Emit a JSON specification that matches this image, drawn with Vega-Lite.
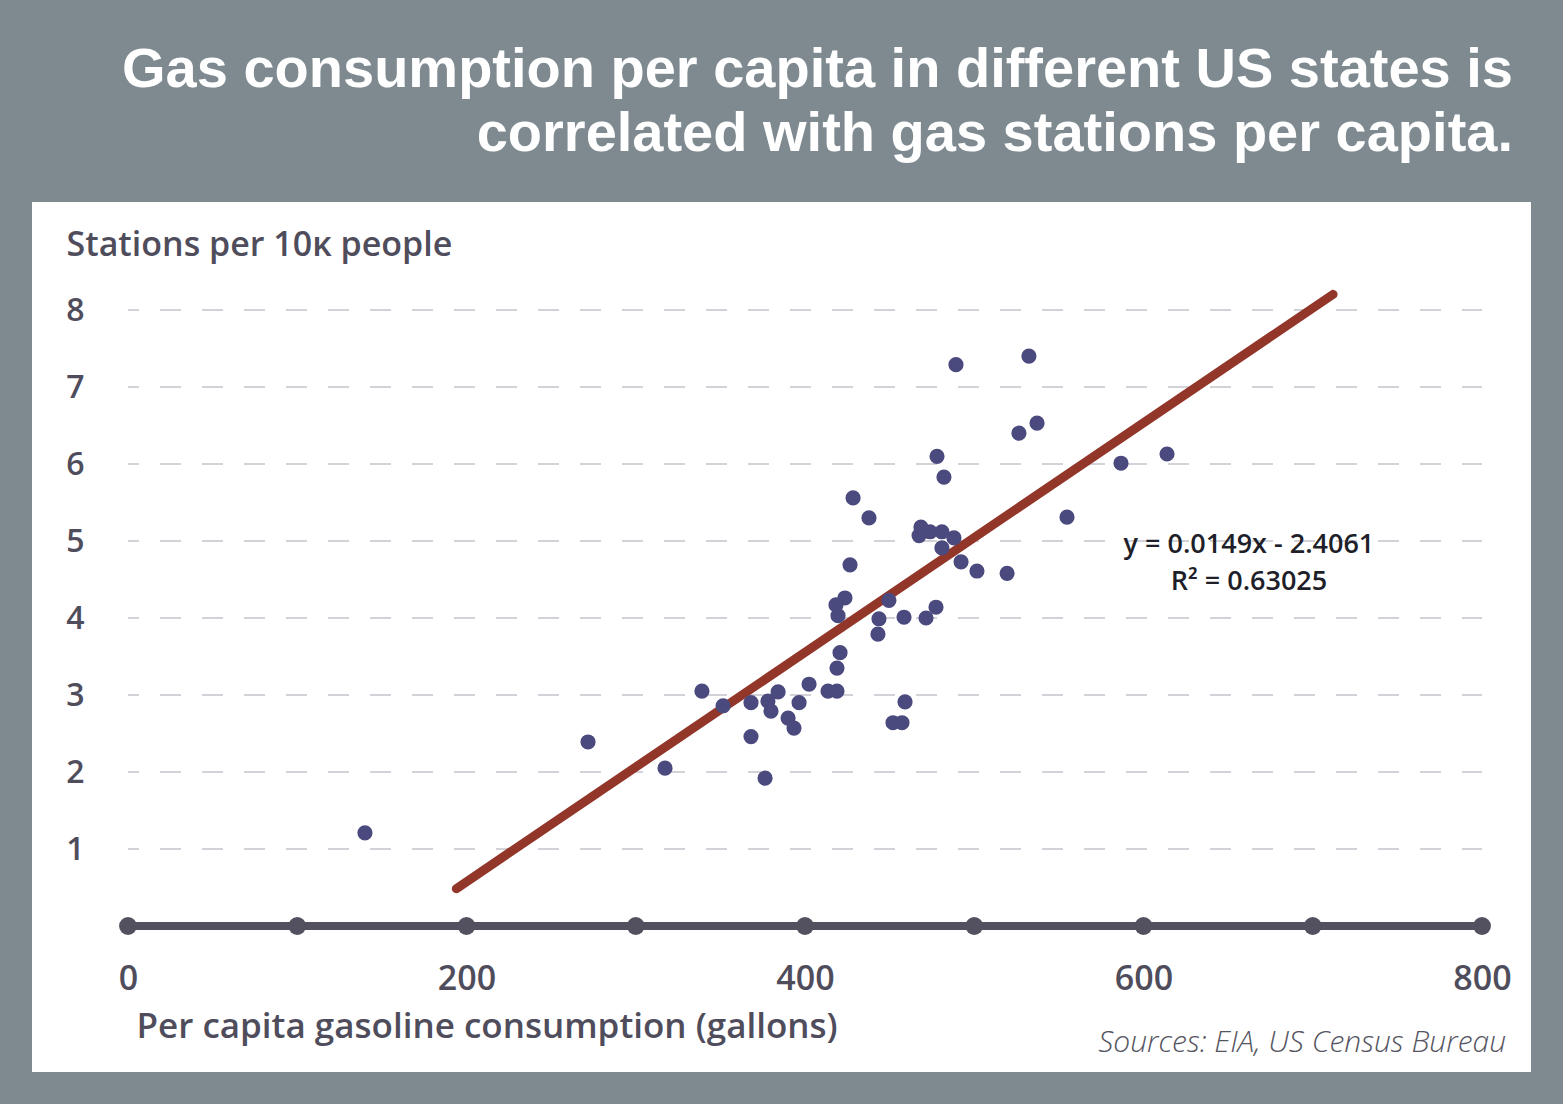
{
  "$schema": "https://vega.github.io/schema/vega-lite/v6.json",
  "autosize": {"type": "none"},
  "width": 1499,
  "height": 870,
  "padding": {"left": 32, "top": 202, "right": 32, "bottom": 32},
  "background": "#7e8990",
  "config": {
    "view": {"fill": "white", "stroke": null},
    "font": "Open Sans"
  },
  "title": {
    "text": ["Gas consumption per capita in different US states is", "correlated with gas stations per capita."],
    "anchor": "end",
    "frame": "group",
    "align": "right",
    "baseline": "bottom",
    "dx": -18,
    "offset": -17,
    "font": "Liberation Sans",
    "fontSize": 56,
    "fontWeight": "bold",
    "lineHeight": 64,
    "color": "white"
  },
  "datasets": {
    "states": [
      {"gallons": 489.2, "stations": 7.29},
      {"gallons": 532.3, "stations": 7.40},
      {"gallons": 526.4, "stations": 6.40},
      {"gallons": 537.1, "stations": 6.53},
      {"gallons": 478.0, "stations": 6.10},
      {"gallons": 482.1, "stations": 5.83},
      {"gallons": 428.4, "stations": 5.56},
      {"gallons": 437.8, "stations": 5.30},
      {"gallons": 554.8, "stations": 5.31},
      {"gallons": 468.5, "stations": 5.18},
      {"gallons": 467.4, "stations": 5.07},
      {"gallons": 473.9, "stations": 5.12},
      {"gallons": 480.9, "stations": 5.12},
      {"gallons": 488.0, "stations": 5.04},
      {"gallons": 480.9, "stations": 4.91},
      {"gallons": 492.2, "stations": 4.73},
      {"gallons": 501.6, "stations": 4.61},
      {"gallons": 519.4, "stations": 4.58},
      {"gallons": 426.6, "stations": 4.69},
      {"gallons": 423.6, "stations": 4.26},
      {"gallons": 418.3, "stations": 4.17},
      {"gallons": 419.5, "stations": 4.03},
      {"gallons": 449.6, "stations": 4.23},
      {"gallons": 443.7, "stations": 3.99},
      {"gallons": 443.1, "stations": 3.79},
      {"gallons": 458.5, "stations": 4.01},
      {"gallons": 471.5, "stations": 4.00},
      {"gallons": 477.4, "stations": 4.14},
      {"gallons": 420.7, "stations": 3.55},
      {"gallons": 418.9, "stations": 3.35},
      {"gallons": 402.4, "stations": 3.14},
      {"gallons": 413.6, "stations": 3.05},
      {"gallons": 418.9, "stations": 3.05},
      {"gallons": 459.1, "stations": 2.91},
      {"gallons": 452.0, "stations": 2.64},
      {"gallons": 457.3, "stations": 2.64},
      {"gallons": 339.1, "stations": 3.05},
      {"gallons": 351.6, "stations": 2.86},
      {"gallons": 368.1, "stations": 2.90},
      {"gallons": 378.1, "stations": 2.92},
      {"gallons": 384.1, "stations": 3.04},
      {"gallons": 379.9, "stations": 2.79},
      {"gallons": 396.5, "stations": 2.90},
      {"gallons": 390.0, "stations": 2.70},
      {"gallons": 393.5, "stations": 2.57},
      {"gallons": 368.1, "stations": 2.46},
      {"gallons": 140.0, "stations": 1.21},
      {"gallons": 271.8, "stations": 2.39},
      {"gallons": 317.3, "stations": 2.05},
      {"gallons": 376.4, "stations": 1.92},
      {"gallons": 586.7, "stations": 6.01},
      {"gallons": 613.9, "stations": 6.13}
    ],
    "trend": [
      {"gallons": 194, "stations": 0.485},
      {"gallons": 712, "stations": 8.203}
    ],
    "grid": [
      {"stations": 1}, {"stations": 2}, {"stations": 3}, {"stations": 4},
      {"stations": 5}, {"stations": 6}, {"stations": 7}, {"stations": 8}
    ],
    "ticks": [
      {"gallons": 0}, {"gallons": 100}, {"gallons": 200}, {"gallons": 300}, {"gallons": 400},
      {"gallons": 500}, {"gallons": 600}, {"gallons": 700}, {"gallons": 800}
    ]
  },
  "layer": [
    {
      "data": {"name": "grid"},
      "mark": {"type": "rule", "color": "#d3d2d8", "strokeWidth": 2, "strokeDash": [21, 21], "strokeDashOffset": 10},
      "encoding": {
        "x": {"datum": 0, "type": "quantitative", "scale": {"domain": [-56.72, 828.95], "nice": false, "zero": false}},
        "x2": {"datum": 800},
        "y": {"field": "stations", "type": "quantitative", "scale": {"domain": [-1.896, 9.4026], "nice": false, "zero": false}}
      }
    },
    {
      "data": {"name": "ticks"},
      "mark": {"type": "rule", "color": "#53515f", "strokeWidth": 8},
      "encoding": {
        "x": {"aggregate": "min", "field": "gallons", "type": "quantitative", "scale": {"domain": [-56.72, 828.95], "nice": false, "zero": false}},
        "x2": {"aggregate": "max", "field": "gallons"},
        "y": {"datum": 0, "type": "quantitative", "scale": {"domain": [-1.896, 9.4026], "nice": false, "zero": false}}
      }
    },
    {
      "data": {"name": "ticks"},
      "mark": {"type": "point", "filled": true, "size": 320, "color": "#53515f", "opacity": 1},
      "encoding": {
        "x": {"field": "gallons", "type": "quantitative", "scale": {"domain": [-56.72, 828.95], "nice": false, "zero": false}},
        "y": {"datum": 0, "type": "quantitative", "scale": {"domain": [-1.896, 9.4026], "nice": false, "zero": false}}
      }
    },
    {
      "data": {"name": "trend"},
      "mark": {"type": "line", "color": "#93362a", "strokeWidth": 9, "strokeCap": "round"},
      "encoding": {
        "x": {"field": "gallons", "type": "quantitative", "scale": {"domain": [-56.72, 828.95], "nice": false, "zero": false}},
        "y": {"field": "stations", "type": "quantitative", "scale": {"domain": [-1.896, 9.4026], "nice": false, "zero": false}}
      }
    },
    {
      "data": {"name": "states"},
      "mark": {"type": "circle", "size": 230, "color": "#4b4a7e", "opacity": 1},
      "encoding": {
        "x": {
          "field": "gallons",
          "type": "quantitative",
          "scale": {"domain": [-56.72, 828.95], "nice": false, "zero": false},
          "axis": {
            "values": [0, 200, 400, 600, 800],
            "format": "d",
            "domain": false,
            "ticks": false,
            "grid": false,
            "offset": -146,
            "labelPadding": 36,
            "labelFont": "Open Sans",
            "labelFontSize": 34,
            "labelFontWeight": 600,
            "labelColor": "#4f4d5c",
            "title": "Per capita gasoline consumption (gallons)",
            "titleFont": "Open Sans",
            "titleFontSize": 35,
            "titleFontWeight": 600,
            "titleColor": "#4f4d5c",
            "titleAlign": "left",
            "titleBaseline": "alphabetic",
            "titleX": 104,
            "titleY": 111
          }
        },
        "y": {
          "field": "stations",
          "type": "quantitative",
          "scale": {"domain": [-1.896, 9.4026], "nice": false, "zero": false},
          "axis": {
            "values": [1, 2, 3, 4, 5, 6, 7, 8],
            "format": "d",
            "domain": false,
            "ticks": false,
            "grid": false,
            "offset": -56,
            "labelPadding": 4,
            "labelFont": "Open Sans",
            "labelFontSize": 32,
            "labelFontWeight": 600,
            "labelColor": "#4f4d5c",
            "title": "Stations per 10κ people",
            "titleFont": "Open Sans",
            "titleFontSize": 34,
            "titleFontWeight": 600,
            "titleColor": "#4f4d5c",
            "titleAngle": 0,
            "titleAlign": "left",
            "titleBaseline": "alphabetic",
            "titleX": -22,
            "titleY": 53
          }
        }
      }
    },
    {
      "data": {"values": [{"label": ["y = 0.0149x - 2.4061", "R² = 0.63025"]}]},
      "mark": {
        "type": "text",
        "align": "center",
        "baseline": "alphabetic",
        "lineHeight": 37,
        "font": "Open Sans",
        "fontSize": 27,
        "fontWeight": 600,
        "color": "#1f1f2a"
      },
      "encoding": {
        "text": {"field": "label"},
        "x": {"datum": 662.3, "type": "quantitative", "scale": {"domain": [-56.72, 828.95], "nice": false, "zero": false}},
        "y": {"datum": 4.84, "type": "quantitative", "scale": {"domain": [-1.896, 9.4026], "nice": false, "zero": false}}
      }
    },
    {
      "data": {"values": [{"label": "Sources: EIA, US Census Bureau"}]},
      "mark": {
        "type": "text",
        "align": "right",
        "baseline": "alphabetic",
        "font": "Open Sans",
        "fontSize": 30,
        "fontStyle": "italic",
        "fontWeight": 300,
        "color": "#555461"
      },
      "encoding": {
        "text": {"field": "label"},
        "x": {"datum": 814.2, "type": "quantitative", "scale": {"domain": [-56.72, 828.95], "nice": false, "zero": false}},
        "y": {"datum": -1.636, "type": "quantitative", "scale": {"domain": [-1.896, 9.4026], "nice": false, "zero": false}}
      }
    }
  ]
}
